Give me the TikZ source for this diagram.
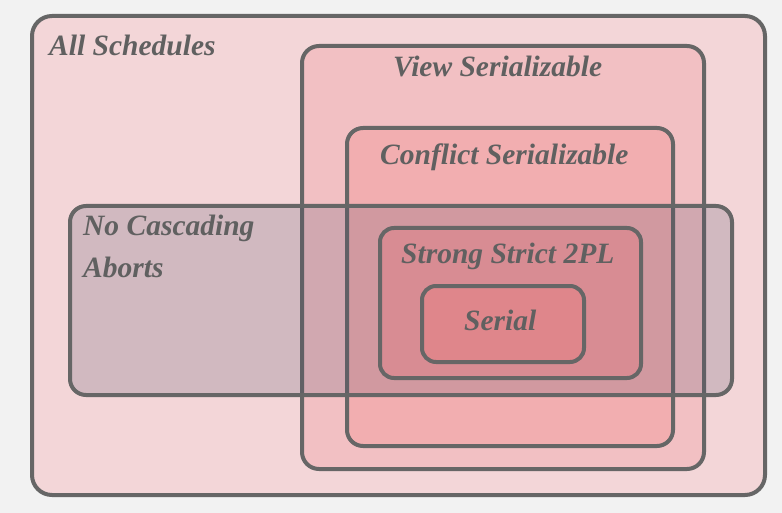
\documentclass[tikz,border=0pt]{standalone}
\usepackage{fontspec}
\setmainfont{Liberation Serif}
\definecolor{bgc}{HTML}{F2F2F2}
\definecolor{linec}{HTML}{666666}
\definecolor{txtc}{HTML}{606060}
\definecolor{allc}{HTML}{F3D6D8}
\definecolor{vsc}{HTML}{F2C0C3}
\definecolor{csc}{HTML}{F2AEB0}
\definecolor{ncac}{HTML}{4D4964}
\definecolor{sspc}{HTML}{D88C93}
\definecolor{serc}{HTML}{DF868B}
\tikzset{
  setbox/.style={draw=linec, line width=4pt, rectangle, inner sep=0pt, anchor=north west},
  lbl/.style={text=txtc, inner sep=0pt, anchor=base west, font=\fontsize{29.5}{34}\selectfont\bfseries\itshape},
}
\begin{document}
\begin{tikzpicture}[x=1pt,y=-1pt]
\fill[bgc] (0,0) rectangle (782,513);
\useasboundingbox (0,0) rectangle (782,513);
\node[setbox, fill=allc, rounded corners=20pt, minimum width=733pt, minimum height=479pt] (all) at (30,14) {};
\node[setbox, fill=vsc, rounded corners=17pt, minimum width=402pt, minimum height=423pt] (vs) at (300,44) {};
\node[setbox, fill=csc, rounded corners=16pt, minimum width=326pt, minimum height=318pt] (cs) at (345,126) {};
\node[setbox, fill=ncac, fill opacity=0.2, rounded corners=16pt, minimum width=662pt, minimum height=189pt] (nca) at (68,204) {};
\node[setbox, fill=sspc, rounded corners=14pt, minimum width=261pt, minimum height=150pt] (ssp) at (378,226) {};
\node[setbox, fill=serc, rounded corners=14pt, minimum width=162pt, minimum height=76pt] (ser) at (420,284) {};
\node[lbl] (tall) at (49,56) {All Schedules};
\node[lbl] (tvs) at (393,77) {View Serializable};
\node[lbl] (tcs) at (380,165) {Conflict Serializable};
\node[lbl] (tnca1) at (83,236) {No Cascading};
\node[lbl] (tnca2) at (83,277) {Aborts};
\node[lbl] (tssp) at (401,264) {Strong Strict 2PL};
\node[lbl] (tser) at (464,330) {Serial};
\end{tikzpicture}
\end{document}
